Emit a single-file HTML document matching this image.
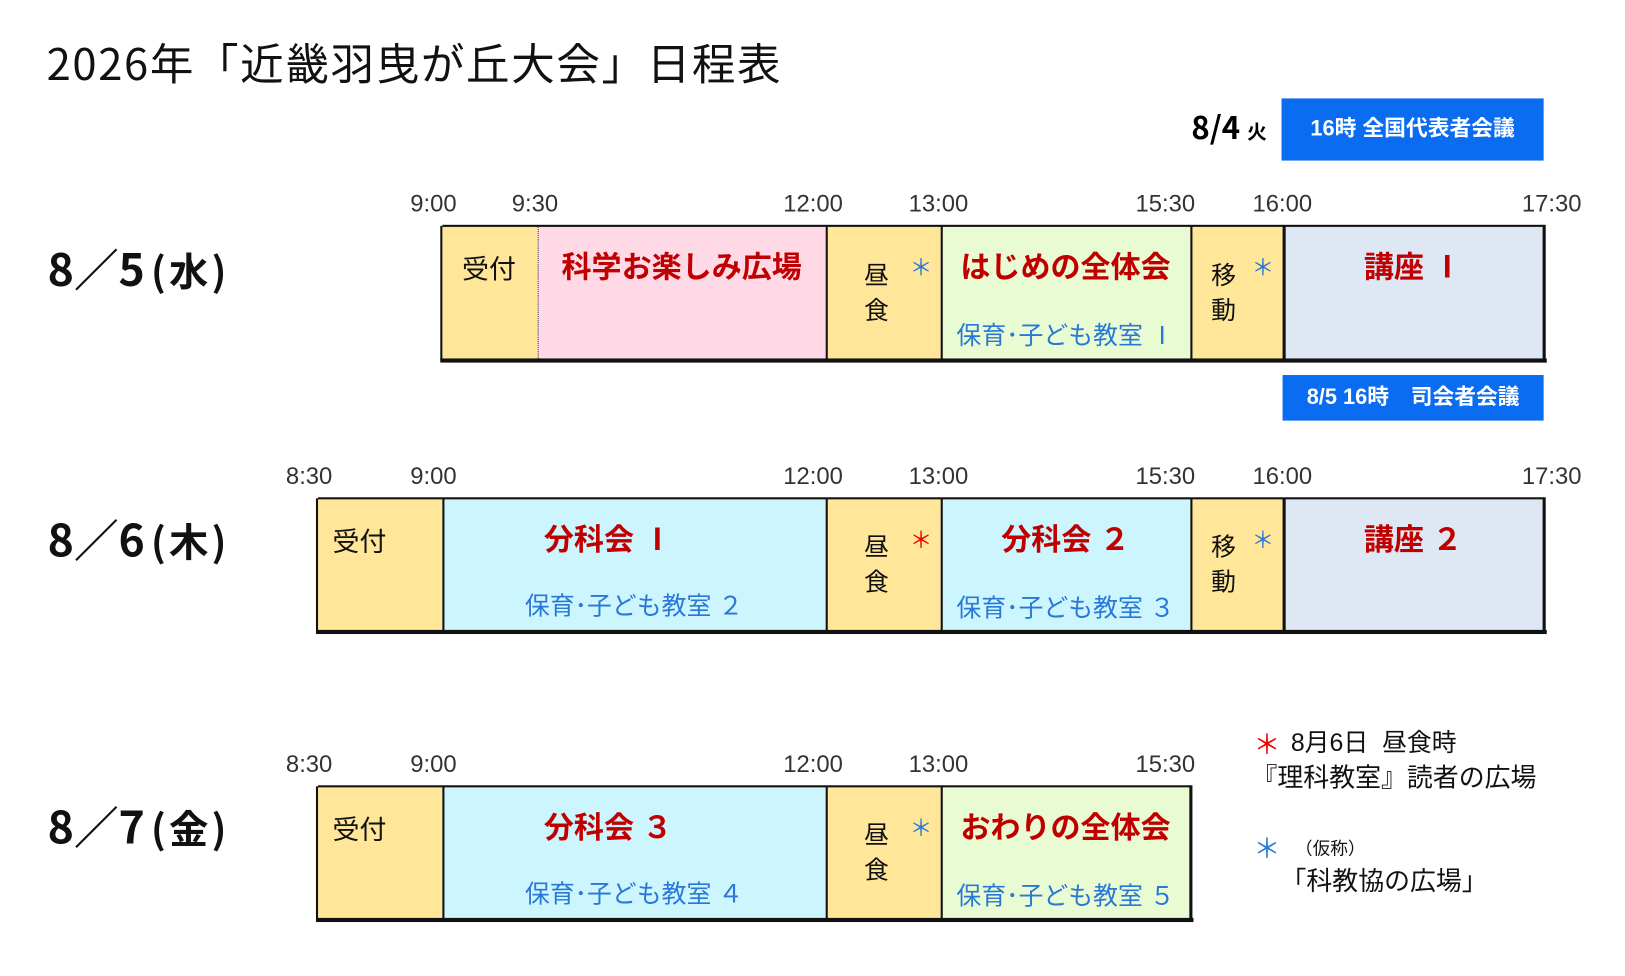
<!DOCTYPE html>
<html><head><meta charset="utf-8"><style>
html,body{margin:0;padding:0;background:#fff;width:1625px;height:976px;overflow:hidden}
#w{position:absolute;left:0;top:0;width:1568px;height:942px;transform:scale(1.036);transform-origin:0 0;font-family:"Liberation Sans","Noto Sans CJK JP",sans-serif}
#w div{position:absolute;white-space:nowrap}
.t{font-size:23px;color:#333;line-height:1}
.c{box-sizing:border-box}
.y{background:#ffe699}.p{background:#ffd9e5}.g{background:#e9fbd3}.b{background:#dde8f4}.cy{background:#ccf5fe}
.lab{font-size:26px;color:#111;line-height:1}
.r{color:#c00000;font-weight:bold;font-size:29px;line-height:1;text-align:center}
.bl{color:#2a78d6;font-size:24px;line-height:1;text-align:center}
.day{font-size:43px;font-weight:bold;color:#111;line-height:1;font-family:"Noto Sans CJK JP",sans-serif}
.day span{font-size:38px;letter-spacing:3px;margin-left:6px}
.st{font-size:22px;line-height:1}
.blue{background:#0a6cf0;color:#fff;font-weight:bold;font-size:21px;text-align:center}
</style></head><body><div id="w">
<div style="left:45px;top:39px;font-size:42px;color:#111;line-height:1;letter-spacing:1.6px;font-family:'Noto Sans CJK JP',sans-serif">2026年「近畿羽曳が丘大会」日程表</div>
<div style="left:1150px;top:106px;font-size:30px;font-weight:bold;line-height:1;font-family:'Noto Sans CJK JP',sans-serif">8/4 <span style="font-size:19px">火</span></div>
<div class="blue" style="left:1237px;top:95px;width:253px;height:60px;line-height:60px">16時 全国代表者会議</div>
<div class="blue" style="left:1238px;top:362px;width:252px;height:44px;line-height:44px">8/5 16時　司会者会議</div>

<!-- Row 1 -->
<div class="day" style="left:46px;top:237px">8／5<span>(水)</span></div>
<div class="t" style="left:396px;top:185px">9:00</div><div class="t" style="left:494px;top:185px">9:30</div><div class="t" style="left:756px;top:185px">12:00</div><div class="t" style="left:877px;top:185px">13:00</div><div class="t" style="left:1096px;top:185px">15:30</div><div class="t" style="left:1209px;top:185px">16:00</div><div class="t" style="left:1469px;top:185px">17:30</div>
<div class="c y" style="left:427px;top:218px;width:92px;height:130px"></div>
<div class="c p" style="left:519px;top:218px;width:278px;height:130px;border-left:1px dotted #333"></div>
<div class="c y" style="left:797px;top:218px;width:111px;height:130px;border-left:2px solid #111"></div>
<div class="c g" style="left:908px;top:218px;width:241px;height:130px;border-left:2px solid #111"></div>
<div class="c y" style="left:1149px;top:218px;width:89px;height:130px;border-left:2px solid #111"></div>
<div class="c b" style="left:1238px;top:218px;width:252px;height:130px;border-left:3px solid #111"></div>
<div style="left:427px;top:217px;width:1063px;height:2px;background:#111"></div>
<div style="left:425px;top:346px;width:1068px;height:4px;background:#111"></div>
<div style="left:425px;top:218px;width:2px;height:130px;background:#111"></div>
<div style="left:1489px;top:217px;width:3px;height:133px;background:#111"></div>
<div class="lab" style="left:446px;top:247px">受付</div>
<div class="r" style="left:519px;top:245px;width:278px">科学お楽しみ広場</div>
<div class="lab" style="left:834px;top:250px;width:26px;font-size:24px;line-height:34px;white-space:normal">昼食</div>
<div class="st" style="left:878px;top:248px;color:#2a78d6">＊</div>
<div class="r" style="left:908px;top:245px;width:241px">はじめの全体会</div>
<div class="bl" style="left:908px;top:313px;width:241px">保育･子ども教室 Ⅰ</div>
<div class="lab" style="left:1169px;top:250px;width:26px;font-size:24px;line-height:34px;white-space:normal">移動</div>
<div class="st" style="left:1208px;top:248px;color:#2a78d6">＊</div>
<div class="r" style="left:1238px;top:245px;width:252px">講座 Ⅰ</div>

<!-- Row 2 -->
<div class="day" style="left:46px;top:498px">8／6<span>(木)</span></div>
<div class="t" style="left:276px;top:448px">8:30</div><div class="t" style="left:396px;top:448px">9:00</div><div class="t" style="left:756px;top:448px">12:00</div><div class="t" style="left:877px;top:448px">13:00</div><div class="t" style="left:1096px;top:448px">15:30</div><div class="t" style="left:1209px;top:448px">16:00</div><div class="t" style="left:1469px;top:448px">17:30</div>
<div class="c y" style="left:307px;top:481px;width:120px;height:129px"></div>
<div class="c cy" style="left:427px;top:481px;width:370px;height:129px;border-left:2px solid #111"></div>
<div class="c y" style="left:797px;top:481px;width:111px;height:129px;border-left:2px solid #111"></div>
<div class="c cy" style="left:908px;top:481px;width:241px;height:129px;border-left:2px solid #111"></div>
<div class="c y" style="left:1149px;top:481px;width:89px;height:129px;border-left:2px solid #111"></div>
<div class="c b" style="left:1238px;top:481px;width:252px;height:129px;border-left:3px solid #111"></div>
<div style="left:307px;top:480px;width:1183px;height:2px;background:#111"></div>
<div style="left:305px;top:608px;width:1188px;height:4px;background:#111"></div>
<div style="left:305px;top:481px;width:2px;height:129px;background:#111"></div>
<div style="left:1489px;top:480px;width:3px;height:132px;background:#111"></div>
<div class="lab" style="left:321px;top:510px">受付</div>
<div class="r" style="left:427px;top:508px;width:320px">分科会 Ⅰ</div>
<div class="bl" style="left:427px;top:574px;width:370px">保育･子ども教室 ２</div>
<div class="lab" style="left:834px;top:512px;width:26px;font-size:24px;line-height:34px;white-space:normal">昼食</div>
<div class="st" style="left:878px;top:511px;color:#e00">＊</div>
<div class="r" style="left:908px;top:508px;width:241px">分科会 ２</div>
<div class="bl" style="left:908px;top:576px;width:241px">保育･子ども教室 ３</div>
<div class="lab" style="left:1169px;top:512px;width:26px;font-size:24px;line-height:34px;white-space:normal">移動</div>
<div class="st" style="left:1208px;top:511px;color:#2a78d6">＊</div>
<div class="r" style="left:1238px;top:508px;width:252px">講座 ２</div>

<!-- Row 3 -->
<div class="day" style="left:46px;top:775px">8／7<span>(金)</span></div>
<div class="t" style="left:276px;top:726px">8:30</div><div class="t" style="left:396px;top:726px">9:00</div><div class="t" style="left:756px;top:726px">12:00</div><div class="t" style="left:877px;top:726px">13:00</div><div class="t" style="left:1096px;top:726px">15:30</div>
<div class="c y" style="left:307px;top:759px;width:120px;height:129px"></div>
<div class="c cy" style="left:427px;top:759px;width:370px;height:129px;border-left:2px solid #111"></div>
<div class="c y" style="left:797px;top:759px;width:111px;height:129px;border-left:2px solid #111"></div>
<div class="c g" style="left:908px;top:759px;width:241px;height:129px;border-left:2px solid #111"></div>
<div style="left:307px;top:758px;width:842px;height:2px;background:#111"></div>
<div style="left:305px;top:886px;width:847px;height:4px;background:#111"></div>
<div style="left:305px;top:759px;width:2px;height:129px;background:#111"></div>
<div style="left:1148px;top:758px;width:3px;height:132px;background:#111"></div>
<div class="lab" style="left:321px;top:788px">受付</div>
<div class="r" style="left:427px;top:786px;width:320px">分科会 ３</div>
<div class="bl" style="left:427px;top:852px;width:370px">保育･子ども教室 ４</div>
<div class="lab" style="left:834px;top:790px;width:26px;font-size:24px;line-height:34px;white-space:normal">昼食</div>
<div class="st" style="left:878px;top:789px;color:#2a78d6">＊</div>
<div class="r" style="left:908px;top:786px;width:241px">おわりの全体会</div>
<div class="bl" style="left:908px;top:854px;width:241px">保育･子ども教室 ５</div>

<!-- Legend -->
<div style="left:1210px;top:706px;font-size:26px;color:#e00;line-height:1">＊</div>
<div style="left:1246px;top:706px;font-size:24px;color:#111;line-height:1">8月6日 &nbsp;昼食時</div>
<div style="left:1208px;top:739px;font-size:25px;color:#111;line-height:1">『理科教室』読者の広場</div>
<div style="left:1210px;top:806px;font-size:26px;color:#2a78d6;line-height:1">＊</div>
<div style="left:1250px;top:811px;font-size:17px;color:#111;line-height:1">（仮称）</div>
<div style="left:1236px;top:839px;font-size:25px;color:#111;line-height:1">「科教協の広場」</div>
</div></body></html>
